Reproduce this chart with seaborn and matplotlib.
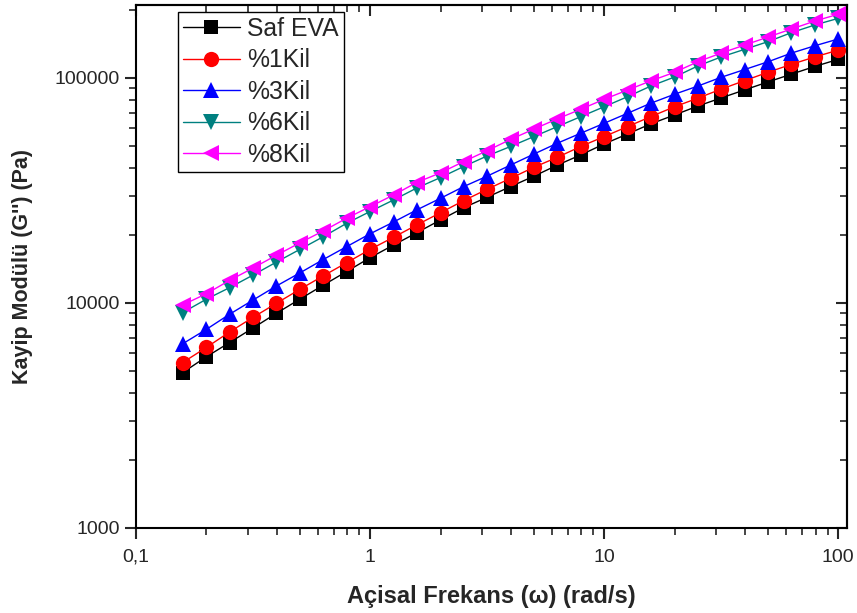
import matplotlib
matplotlib.use("Agg")
import matplotlib.pyplot as plt
import matplotlib.ticker as mticker
import seaborn as sns
import pandas as pd
import numpy as np

freq = [0.158, 0.2, 0.251, 0.316, 0.398, 0.501, 0.631, 0.794, 1.0, 1.26, 1.58, 2.0,
        2.51, 3.16, 3.98, 5.01, 6.31, 7.94, 10.0, 12.6, 15.8, 20.0, 25.1, 31.6,
        39.8, 50.1, 63.1, 79.4, 100.0]

saf_eva = [4900, 5770, 6670, 7740, 9000, 10400, 12000, 13800, 15900, 18100, 20500,
           23400, 26500, 29500, 32900, 36600, 41000, 45500, 50900, 56400, 62500,
           68500, 75000, 81500, 88500, 96000, 104000, 112500, 121000]
kil1 = [5430, 6350, 7430, 8630, 9970, 11500, 13200, 15100, 17300, 19600, 22200,
        25200, 28500, 32000, 35800, 40100, 44400, 49600, 54900, 60800, 67300,
        74500, 81300, 89200, 97300, 106000, 115000, 124000, 133000]
kil3 = [6580, 7640, 8910, 10300, 11900, 13600, 15600, 17800, 20300, 22900, 25900,
        29200, 32900, 36600, 41000, 45900, 51300, 56800, 62900, 69700, 77200,
        84700, 92000, 100700, 109000, 118000, 129000, 139000, 149000]
kil6 = [9060, 10400, 11700, 13300, 15200, 17300, 19700, 22600, 25500, 28700, 32400,
        36100, 40400, 45000, 49600, 54900, 60800, 67300, 74500, 82600, 92000,
        101000, 113000, 124000, 134000, 145000, 159000, 172000, 184000]
kil8 = [9790, 11000, 12600, 14300, 16300, 18500, 20900, 23800, 26800, 30200, 34300,
        37900, 42500, 47500, 53300, 59300, 65800, 72600, 80400, 88400, 97000,
        106000, 118000, 129000, 140000, 152000, 165000, 179000, 192000]

labels = ["Saf EVA", "%1Kil", "%3Kil", "%6Kil", "%8Kil"]
series = [saf_eva, kil1, kil3, kil6, kil8]
colors = ["#000000", "#ff0000", "#0000ff", "#008080", "#ff00ff"]
markers = ["s", "o", "^", "v", "<"]
msizes = [9.5, 11, 11.5, 11.5, 11.5]

sns.set_style("ticks")
plt.rcParams['font.family'] = ['Liberation Sans', 'DejaVu Sans']

fig = plt.figure(figsize=(8.57, 6.13), dpi=100)
ax = fig.add_axes([136/857, 1 - 528/613, (847-136)/857, (528-5)/613])

for lab, vals, c, m, ms in zip(labels, series, colors, markers, msizes):
    df = pd.DataFrame({"f": freq, "g": vals})
    sns.lineplot(data=df, x="f", y="g", ax=ax, color=c, marker=m, markersize=ms,
                 markeredgewidth=0, linewidth=1.0, label=lab)

ax.set_xscale("log")
ax.set_yscale("log")
ax.set_xlim(0.1, 109)
ax.set_ylim(1000, 211000)

ax.xaxis.set_major_locator(mticker.FixedLocator([0.1, 1, 10, 100]))
ax.xaxis.set_major_formatter(mticker.FixedFormatter(["0,1", "1", "10", "100"]))
ax.yaxis.set_major_locator(mticker.FixedLocator([1000, 10000, 100000]))
ax.yaxis.set_major_formatter(mticker.FixedFormatter(["1000", "10000", "100000"]))
ax.xaxis.set_minor_locator(mticker.LogLocator(base=10, subs=np.arange(2, 10), numticks=20))
ax.yaxis.set_minor_locator(mticker.LogLocator(base=10, subs=np.arange(2, 10), numticks=20))
ax.xaxis.set_minor_formatter(mticker.NullFormatter())
ax.yaxis.set_minor_formatter(mticker.NullFormatter())

for s in ax.spines.values():
    s.set_linewidth(1.5)
    s.set_color("black")

ax.tick_params(which="major", direction="out", length=8, width=1.5, labelsize=14,
               top=False, right=False)
ax.tick_params(axis="x", which="major", pad=7)
ax.tick_params(which="minor", direction="out", length=5, width=1.2, top=False, right=False)

axt = ax.secondary_xaxis("top")
axt.xaxis.set_major_locator(mticker.FixedLocator([0.1, 1, 10, 100]))
axt.xaxis.set_minor_locator(mticker.LogLocator(base=10, subs=np.arange(2, 10), numticks=20))
axt.tick_params(which="major", direction="in", length=8, width=1.5, labeltop=False)
axt.tick_params(which="minor", direction="in", length=5, width=1.2)
axt.xaxis.set_major_formatter(mticker.NullFormatter())
axt.xaxis.set_minor_formatter(mticker.NullFormatter())
axr = ax.secondary_yaxis("right")
axr.yaxis.set_major_locator(mticker.FixedLocator([1000, 10000, 100000]))
axr.yaxis.set_minor_locator(mticker.LogLocator(base=10, subs=np.arange(2, 10), numticks=20))
axr.tick_params(which="major", direction="in", length=8, width=1.5, labelright=False)
axr.tick_params(which="minor", direction="in", length=5, width=1.2)
axr.yaxis.set_major_formatter(mticker.NullFormatter())
axr.yaxis.set_minor_formatter(mticker.NullFormatter())
for sa in (axt, axr):
    for s in sa.spines.values():
        s.set_linewidth(1.5)

ax.set_xlabel("Açisal Frekans (ω) (rad/s)", fontsize=17, fontweight="bold",
              family=["Liberation Sans Narrow", "Liberation Sans", "DejaVu Sans"], labelpad=14)
ax.set_ylabel("Kayip Modülü (G'') (Pa)", fontsize=15.5, fontweight="bold",
              family=["Liberation Sans Narrow", "Liberation Sans", "DejaVu Sans"], labelpad=16)

leg = ax.legend(loc="upper left", bbox_to_anchor=(42/711, 1 - 7/523), fontsize=17.8,
                frameon=True, fancybox=False, edgecolor="black", framealpha=1,
                handlelength=2.3, handletextpad=0.3, borderpad=0.2, labelspacing=0.3,
                borderaxespad=0)
leg.get_frame().set_linewidth(1.0)

fig.savefig("out.png", dpi=100)
